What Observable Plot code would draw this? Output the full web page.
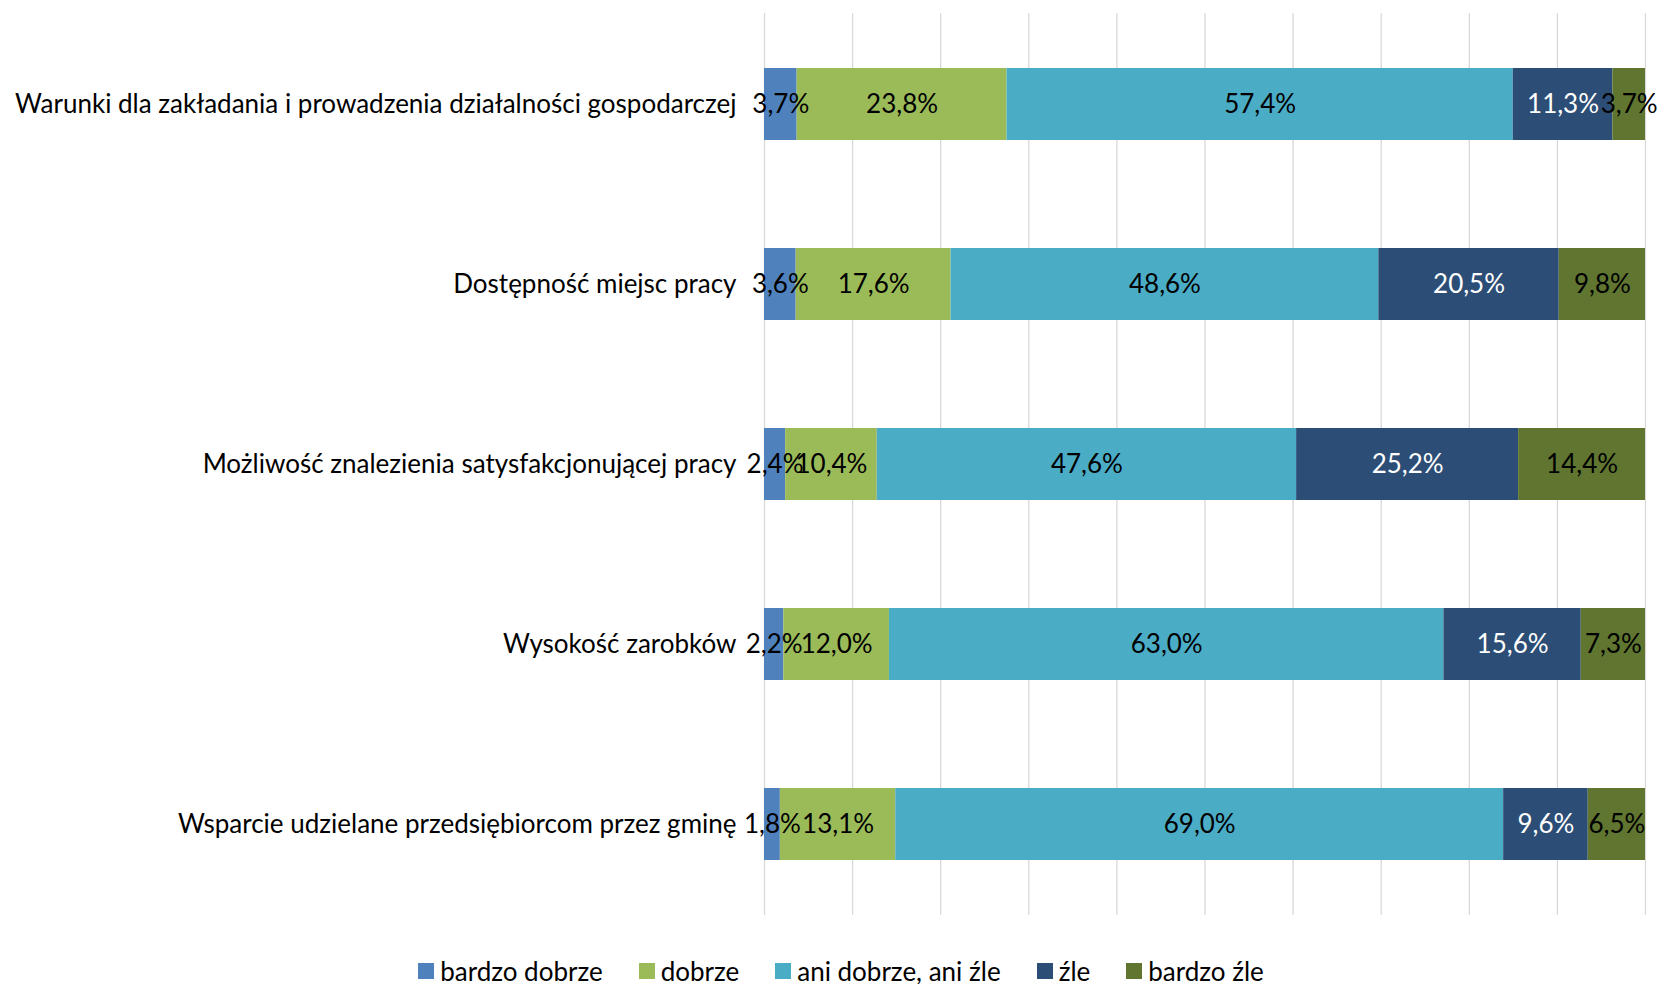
<!DOCTYPE html>
<html>
<head>
<meta charset="utf-8">
<script src="https://cdn.jsdelivr.net/npm/d3@7"></script>
<script src="https://cdn.jsdelivr.net/npm/@observablehq/plot@0.6"></script>
<style>
  html, body { margin: 0; padding: 0; background: #fff; }
  body { width: 1659px; height: 984px; overflow: hidden; font-family: Lato, "Noto Sans", sans-serif; }
  #chart svg { display: block; }
  #legend { display: flex; justify-content: center; align-items: center; gap: 36px; font-size: 26px; color: #000; padding-left: 23px; margin-top: 16px; line-height: 30px; }
  #legend .item { display: flex; align-items: center; gap: 6px; }
  #legend .sw { width: 16px; height: 16px; display: inline-block; }
</style>
</head>
<body>
<div id="chart"></div>
<div id="legend"></div>
<script>
const questions = [
  "Warunki dla zakładania i prowadzenia działalności gospodarczej",
  "Dostępność miejsc pracy",
  "Możliwość znalezienia satysfakcjonującej pracy",
  "Wysokość zarobków",
  "Wsparcie udzielane przedsiębiorcom przez gminę"
];
const answers = ["bardzo dobrze", "dobrze", "ani dobrze, ani źle", "źle", "bardzo źle"];
const colors = ["#4F81BD", "#9BBB59", "#4BACC6", "#2C4D75", "#5F7530"];
const bardzoDobrze = [3.7, 3.6, 2.4, 2.2, 1.8];
const dobrze = [23.8, 17.6, 10.4, 12.0, 13.1];
const aniAni = [57.4, 48.6, 47.6, 63.0, 69.0];
const zle = [11.3, 20.5, 25.2, 15.6, 9.6];
const bardzoZle = [3.7, 9.8, 14.4, 7.3, 6.5];
const xTicks = [0, 0.1, 0.2, 0.3, 0.4, 0.5, 0.6, 0.7, 0.8, 0.9, 1];

const series = [bardzoDobrze, dobrze, aniAni, zle, bardzoZle];
const data = [];
questions.forEach((q, i) => {
  answers.forEach((a, j) => data.push({q, cat: a, v: series[j][i]}));
});
const fmt = v => v.toFixed(1).replace(".", ",") + "%";
const stackOpts = {x: "v", y: "q", z: "cat", order: answers, offset: "normalize"};

const chart = Plot.plot({
  width: 1659,
  height: 940,
  marginLeft: 764,
  marginRight: 14,
  marginTop: 13,
  marginBottom: 25,
  style: {fontFamily: "Lato, 'Noto Sans', sans-serif", fontSize: "26px", color: "#000", background: "#fff"},
  x: {domain: [0, 1], axis: null},
  y: {domain: questions, paddingInner: 0.6, paddingOuter: 0.3, axis: null},
  color: {domain: answers, range: colors},
  marks: [
    Plot.ruleX(xTicks, {x: d => d, stroke: "#D9D9D9", strokeWidth: 1.3}),
    Plot.barX(data, Plot.stackX({...stackOpts, fill: "cat"})),
    Plot.text(data, Plot.filter(d => d.cat !== "źle", Plot.stackX({...stackOpts, text: d => fmt(d.v), fill: "black", fontSize: 26}))),
    Plot.text(data, Plot.filter(d => d.cat === "źle", Plot.stackX({...stackOpts, text: d => fmt(d.v), fill: "white", fontSize: 26}))),
    Plot.axisY({tickSize: 0, tickPadding: 28, fontSize: 26, label: null})
  ]
});
document.getElementById("chart").appendChild(chart);

const legend = document.getElementById("legend");
answers.forEach((a, i) => {
  const it = document.createElement("div");
  it.className = "item";
  const sw = document.createElement("span");
  sw.className = "sw";
  sw.style.background = colors[i];
  const t = document.createElement("span");
  t.textContent = a;
  it.appendChild(sw); it.appendChild(t);
  legend.appendChild(it);
});
</script>
</body>
</html>
